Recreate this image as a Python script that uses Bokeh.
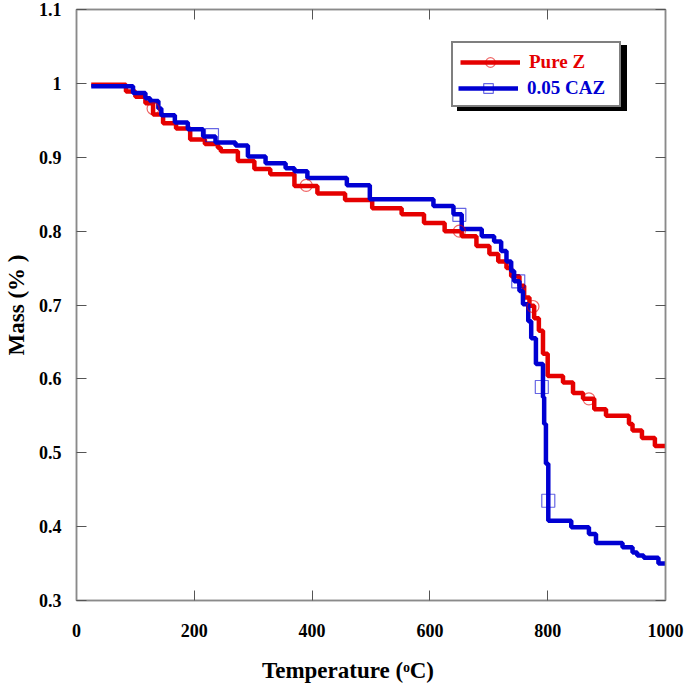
from bokeh.plotting import figure
from bokeh.models import (Range1d, FixedTicker, LinearAxis, Legend, LegendItem,
                          CustomLabelingPolicy)
from bokeh.embed import file_html
from bokeh.resources import INLINE

# ---- data ----
pure_z_temp = [25, 84, 100, 117, 130, 147, 169, 193, 218, 240, 245, 274, 302, 329, 370, 409,
               456, 502, 552, 590, 625, 654, 679, 701, 716, 730, 738, 752, 760, 769, 777, 785,
               792, 800, 826, 843, 860, 879, 899, 938, 944, 960, 982, 1000]
pure_z_mass = [0.998, 0.989, 0.982, 0.973, 0.958, 0.946, 0.939, 0.924, 0.918, 0.913, 0.908, 0.895,
               0.884, 0.877, 0.861, 0.851, 0.842, 0.831, 0.823, 0.811, 0.800, 0.793, 0.780, 0.769,
               0.759, 0.750, 0.739, 0.726, 0.710, 0.699, 0.682, 0.665, 0.634, 0.604, 0.595, 0.581,
               0.573, 0.559, 0.550, 0.539, 0.530, 0.520, 0.509, 0.509]

caz_temp = [25, 96, 117, 125, 139, 144, 167, 189, 215, 236, 270, 291, 321, 355, 370, 392, 459,
            498, 606, 640, 654, 688, 709, 721, 730, 738, 743, 752, 758, 767, 772, 780, 792, 794,
            797, 801, 840, 870, 882, 927, 944, 952, 963, 988, 1000]
caz_mass = [0.996, 0.987, 0.980, 0.976, 0.966, 0.957, 0.947, 0.938, 0.928, 0.920, 0.916, 0.901,
            0.892, 0.885, 0.881, 0.872, 0.862, 0.843, 0.834, 0.823, 0.803, 0.793, 0.786, 0.773,
            0.759, 0.746, 0.732, 0.719, 0.701, 0.678, 0.655, 0.620, 0.575, 0.539, 0.485, 0.408,
            0.399, 0.390, 0.378, 0.372, 0.365, 0.361, 0.358, 0.350, 0.350]

pure_z_marker_temp = [130, 390, 650, 775, 870]
pure_z_marker_mass = [0.966, 0.862, 0.800, 0.698, 0.573]
caz_marker_temp = [230, 650, 750, 790, 801]
caz_marker_mass = [0.930, 0.822, 0.732, 0.589, 0.435]

x_ticks = [0, 200, 400, 600, 800, 1000]
x_tick_labels = ["0", "200", "400", "600", "800", "1000"]
y_ticks = [0.3, 0.4, 0.5, 0.6, 0.7, 0.8, 0.9, 1.0, 1.1]
y_tick_labels = ["0.3", "0.4", "0.5", "0.6", "0.7", "0.8", "0.9", "1", "1.1"]

series_names = ["Pure Z", "0.05 CAZ"]
x_title = "Temperature (\u1d52C)" + "\u00a0" * 8
y_title = "Mass (% )"

RED = "#e50000"
BLUE = "#0000d2"
AXIS = "#8a8a8a"
FONT = "Liberation Serif"

p = figure(width=685, height=685, output_backend="svg", toolbar_location=None,
           x_range=Range1d(0, 1000), y_range=Range1d(0.3, 1.1),
           min_border_left=73, min_border_right=20, min_border_top=9, min_border_bottom=84,
           x_axis_location="below", y_axis_location="left")
p.xgrid.visible = False
p.ygrid.visible = False
p.outline_line_color = AXIS
p.outline_line_width = 1.5
p.background_fill_color = "white"
p.border_fill_color = "white"

def style_axis(ax, ticks, labels, show_labels):
    ax.ticker = FixedTicker(ticks=ticks)
    ax.minor_tick_line_color = None
    ax.major_tick_in = 10
    ax.major_tick_out = 0
    ax.major_tick_line_color = "#555555"
    ax.major_tick_line_width = 1
    ax.axis_line_color = AXIS
    ax.axis_line_width = 1.5
    if show_labels:
        ax.major_label_overrides = dict(zip(ticks, labels))
        ax.major_label_text_font = FONT
        ax.major_label_text_font_style = "bold"
        ax.major_label_text_font_size = "18px"
        ax.major_label_text_color = "black"
    else:
        ax.major_label_policy = CustomLabelingPolicy(code="return new Set()")
        ax.major_label_text_font_size = "1px"
        ax.major_label_standoff = 0

xax = p.xaxis[0]
style_axis(xax, x_ticks, x_tick_labels, True)
xax.major_label_standoff = 23
xax.axis_label = x_title
xax.axis_label_text_font = FONT
xax.axis_label_text_font_style = "bold"
xax.axis_label_text_font_size = "23px"
xax.axis_label_text_color = "black"
xax.axis_label_standoff = 18

yax = p.yaxis[0]
style_axis(yax, y_ticks, y_tick_labels, True)
yax.major_label_standoff = 15
yax.axis_label = y_title
yax.axis_label_text_font = FONT
yax.axis_label_text_font_style = "bold"
yax.axis_label_text_font_size = "23px"
yax.axis_label_text_color = "black"
yax.axis_label_standoff = 7

top_ax = LinearAxis()
style_axis(top_ax, x_ticks, x_tick_labels, False)
p.add_layout(top_ax, "above")
right_ax = LinearAxis()
style_axis(right_ax, y_ticks, y_tick_labels, False)
p.add_layout(right_ax, "right")

# ---- data marks ----
red_line = p.step(pure_z_temp, pure_z_mass, mode="after", line_color=RED, line_width=4.5)
blue_line = p.step(caz_temp, caz_mass, mode="after", line_color=BLUE, line_width=4.5)
red_pts = p.scatter(pure_z_marker_temp, pure_z_marker_mass, marker="circle", size=12,
                    fill_color=None, line_color=RED, line_alpha=0.6, line_width=1.2)
blue_pts = p.scatter(caz_marker_temp, caz_marker_mass, marker="square", size=13,
                     fill_color=None, line_color=BLUE, line_alpha=0.6, line_width=1.2)

# ---- legend (shadow, box, blue overlay row) ----
def make_legend(items, loc, padding, bg, border, text_color):
    return Legend(items=items, location=loc, padding=padding, spacing=0,
                  glyph_width=60, glyph_height=24, label_height=24, label_width=83,
                  label_standoff=9, label_text_font=FONT, label_text_font_style="bold",
                  label_text_font_size="19px", label_text_color=text_color,
                  background_fill_color=bg, background_fill_alpha=1.0,
                  border_line_color=border, border_line_width=2, margin=0)

PAD = 7
shadow = make_legend([LegendItem(label=" ", renderers=[red_line, red_pts]),
                      LegendItem(label=" ", renderers=[blue_line, blue_pts])],
                     (381, 489), PAD, "black", "black", "black")
main = make_legend([LegendItem(label=series_names[0], renderers=[red_line, red_pts]),
                    LegendItem(label=" ", renderers=[blue_line, blue_pts])],
                   (375, 493), PAD, "white", "black", RED)
overlay = make_legend([LegendItem(label=series_names[1], renderers=[blue_line, blue_pts])],
                      (375 + PAD, 493 + PAD), 0, "white", None, BLUE)
p.add_layout(shadow)
p.add_layout(main)
p.add_layout(overlay)

open("out.html", "w").write(file_html(p, INLINE))
